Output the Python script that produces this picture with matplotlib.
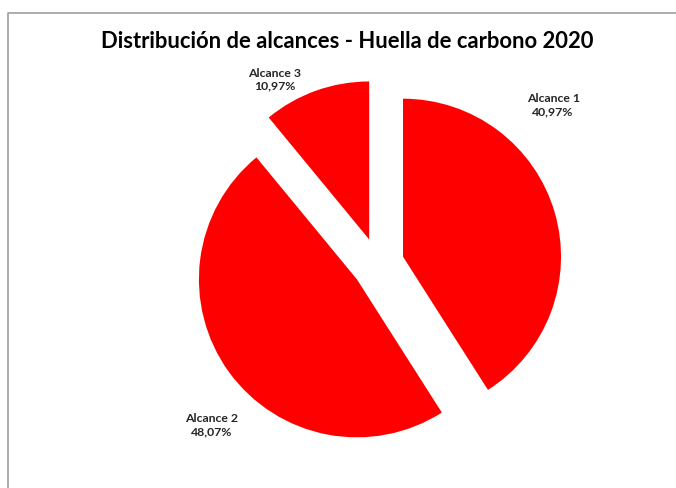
import matplotlib
matplotlib.use('Agg')
import matplotlib.pyplot as plt
from matplotlib.lines import Line2D

# Datos de alcances
categories = ["Alcance 1", "Alcance 2", "Alcance 3"]
shares = [40.97, 48.07, 10.97]
title = "Distribución de alcances - Huella de carbono 2020"

W, H = 676, 488
cx, cy, R = 378, 264, 158  # pie centre / radius in pixels

fig = plt.figure(figsize=(W / 100, H / 100), dpi=100)
fig.patch.set_facecolor("white")

# Chart-area frame (only left and top edges are visible)
fx, fy = 7.5 / W, 1 - 12.5 / H
fig.lines.append(Line2D([fx, fx, 1.05], [-0.05, fy, fy], transform=fig.transFigure,
                        color="#a6a6a6", linewidth=1.3))

ax = fig.add_axes([0, 0, 1, 1])
ax.pie(shares, colors=["#ff0000"] * len(shares), startangle=90,
       counterclock=False, explode=[0.165] * len(shares), radius=1,
       wedgeprops=dict(linewidth=0))
ax.set_xlim(-cx / R, (W - cx) / R)
ax.set_ylim((cy - H) / R, cy / R)

# label positions (data units around pie centre)
label_pos = [(1.108, 1.006), (-1.051, -1.019), (-0.652, 1.165)]
for cat, val, (x, y) in zip(categories, shares, label_pos):
    txt = f"{cat}\n{val:.2f}%".replace(".", ",")
    ax.text(x, y, txt, ha="center", va="center", fontsize=8.8,
            fontfamily="Lato", fontweight="bold", color="#262626",
            linespacing=1.2)

fig.text(347 / W, 1 - 42 / H, title, ha="center", va="center",
         fontsize=15.8, fontfamily="Lato", fontweight="bold", color="black")

fig.savefig("out.png", dpi=100)
